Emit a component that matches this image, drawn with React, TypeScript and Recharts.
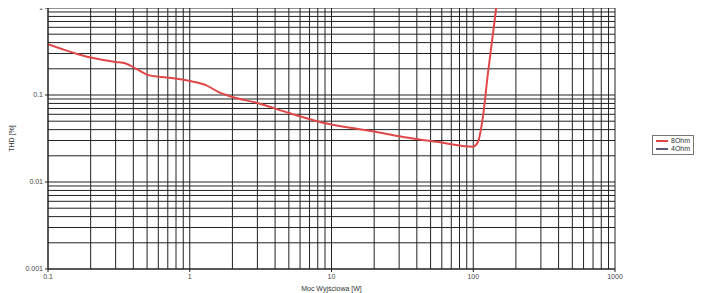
import React from 'react';
import { LineChart, Line, XAxis, YAxis, CartesianGrid, ReferenceLine, Legend, Label } from 'recharts';

// Output power [W] and THD [%] for the 8 Ohm load
const power = [0.1, 0.2, 0.3, 0.35, 0.42, 0.52, 0.72, 1.0, 1.3, 1.6, 2.0, 3.0, 5.0, 8.7, 20, 32, 55, 100, 108, 117, 127, 138, 145];
const thd8 = [0.385, 0.27, 0.24, 0.232, 0.2, 0.168, 0.158, 0.145, 0.13, 0.108, 0.095, 0.081, 0.062, 0.048, 0.038, 0.033, 0.029, 0.0255, 0.029, 0.056, 0.179, 0.516, 1.0];

const xTicks = [0.1, 1, 10, 100, 1000];
const yTicks = [0.001, 0.01, 0.1, 1];
const steps = [2, 3, 4, 5, 6, 7, 8, 9];
const minorX = [0.1, 1, 10, 100].flatMap(d => steps.map(s => +(d * s).toPrecision(2)));
const minorY = [0.001, 0.01, 0.1].flatMap(d => steps.map(s => +(d * s).toPrecision(2)));

const series = [
  { key: 'thd8', name: '8Ohm', color: '#e04848' },
  { key: 'thd4', name: '4Ohm', color: '#5a5a78' },
];

const data = power.map((p, i) => ({ p, thd8: thd8[i] }));

const tickStyle = { fill: '#444', fontSize: 7, fontFamily: 'Arial, Liberation Sans, sans-serif' };

const LegendBox = () => (
  <div style={{ border: '1px solid #777', padding: '1px 3px', background: '#fff', fontFamily: 'Arial, Liberation Sans, sans-serif', fontSize: 7, color: '#333', lineHeight: '8px' }}>
    {series.map(s => (
      <div key={s.key} style={{ display: 'flex', alignItems: 'center' }}>
        <span style={{ display: 'inline-block', width: 12, height: 2, background: s.color, marginRight: 3 }} />
        {s.name}
      </div>
    ))}
  </div>
);

export default function App() {
  return (
    <div style={{ margin: '-8px 0 0 -8px', width: 705, height: 293, background: '#fff' }}>
      <LineChart width={705} height={293} data={data} margin={{ top: 8, right: 90, left: 0, bottom: 0 }}>
        <CartesianGrid stroke="#222" strokeWidth={1} />
        {minorX.map(v => (
          <ReferenceLine key={'x' + v} x={v} stroke="#222" strokeWidth={1} ifOverflow="hidden" />
        ))}
        {minorY.map(v => (
          <ReferenceLine key={'y' + v} y={v} stroke="#222" strokeWidth={1} ifOverflow="hidden" />
        ))}
        <XAxis
          dataKey="p"
          type="number"
          scale="log"
          domain={[0.1, 1000]}
          ticks={xTicks}
          allowDataOverflow
          height={24}
          stroke="#222"
          tickSize={3}
          tick={tickStyle}
          tickFormatter={v => String(v)}
        >
          <Label value="Moc Wyjściowa [W]" position="insideBottom" offset={2} style={{ ...tickStyle, fill: '#333' }} />
        </XAxis>
        <YAxis
          type="number"
          scale="log"
          domain={[0.001, 1]}
          ticks={yTicks}
          allowDataOverflow
          width={48}
          stroke="#222"
          tickSize={3}
          tick={tickStyle}
          tickFormatter={v => String(v)}
        >
          <Label value="THD [%]" angle={-90} position="insideLeft" offset={12} style={{ ...tickStyle, fill: '#333', textAnchor: 'middle' }} />
        </YAxis>
        <Legend
          layout="vertical"
          align="center"
          verticalAlign="middle"
          content={<LegendBox />}
          wrapperStyle={{ left: 652, top: 135, width: 'auto', height: 'auto' }}
        />
        {series.map(s => (
          <Line
            key={s.key}
            dataKey={s.key}
            name={s.name}
            type="monotone"
            stroke={s.color}
            strokeWidth={2}
            dot={false}
            isAnimationActive={false}
          />
        ))}
      </LineChart>
    </div>
  );
}
